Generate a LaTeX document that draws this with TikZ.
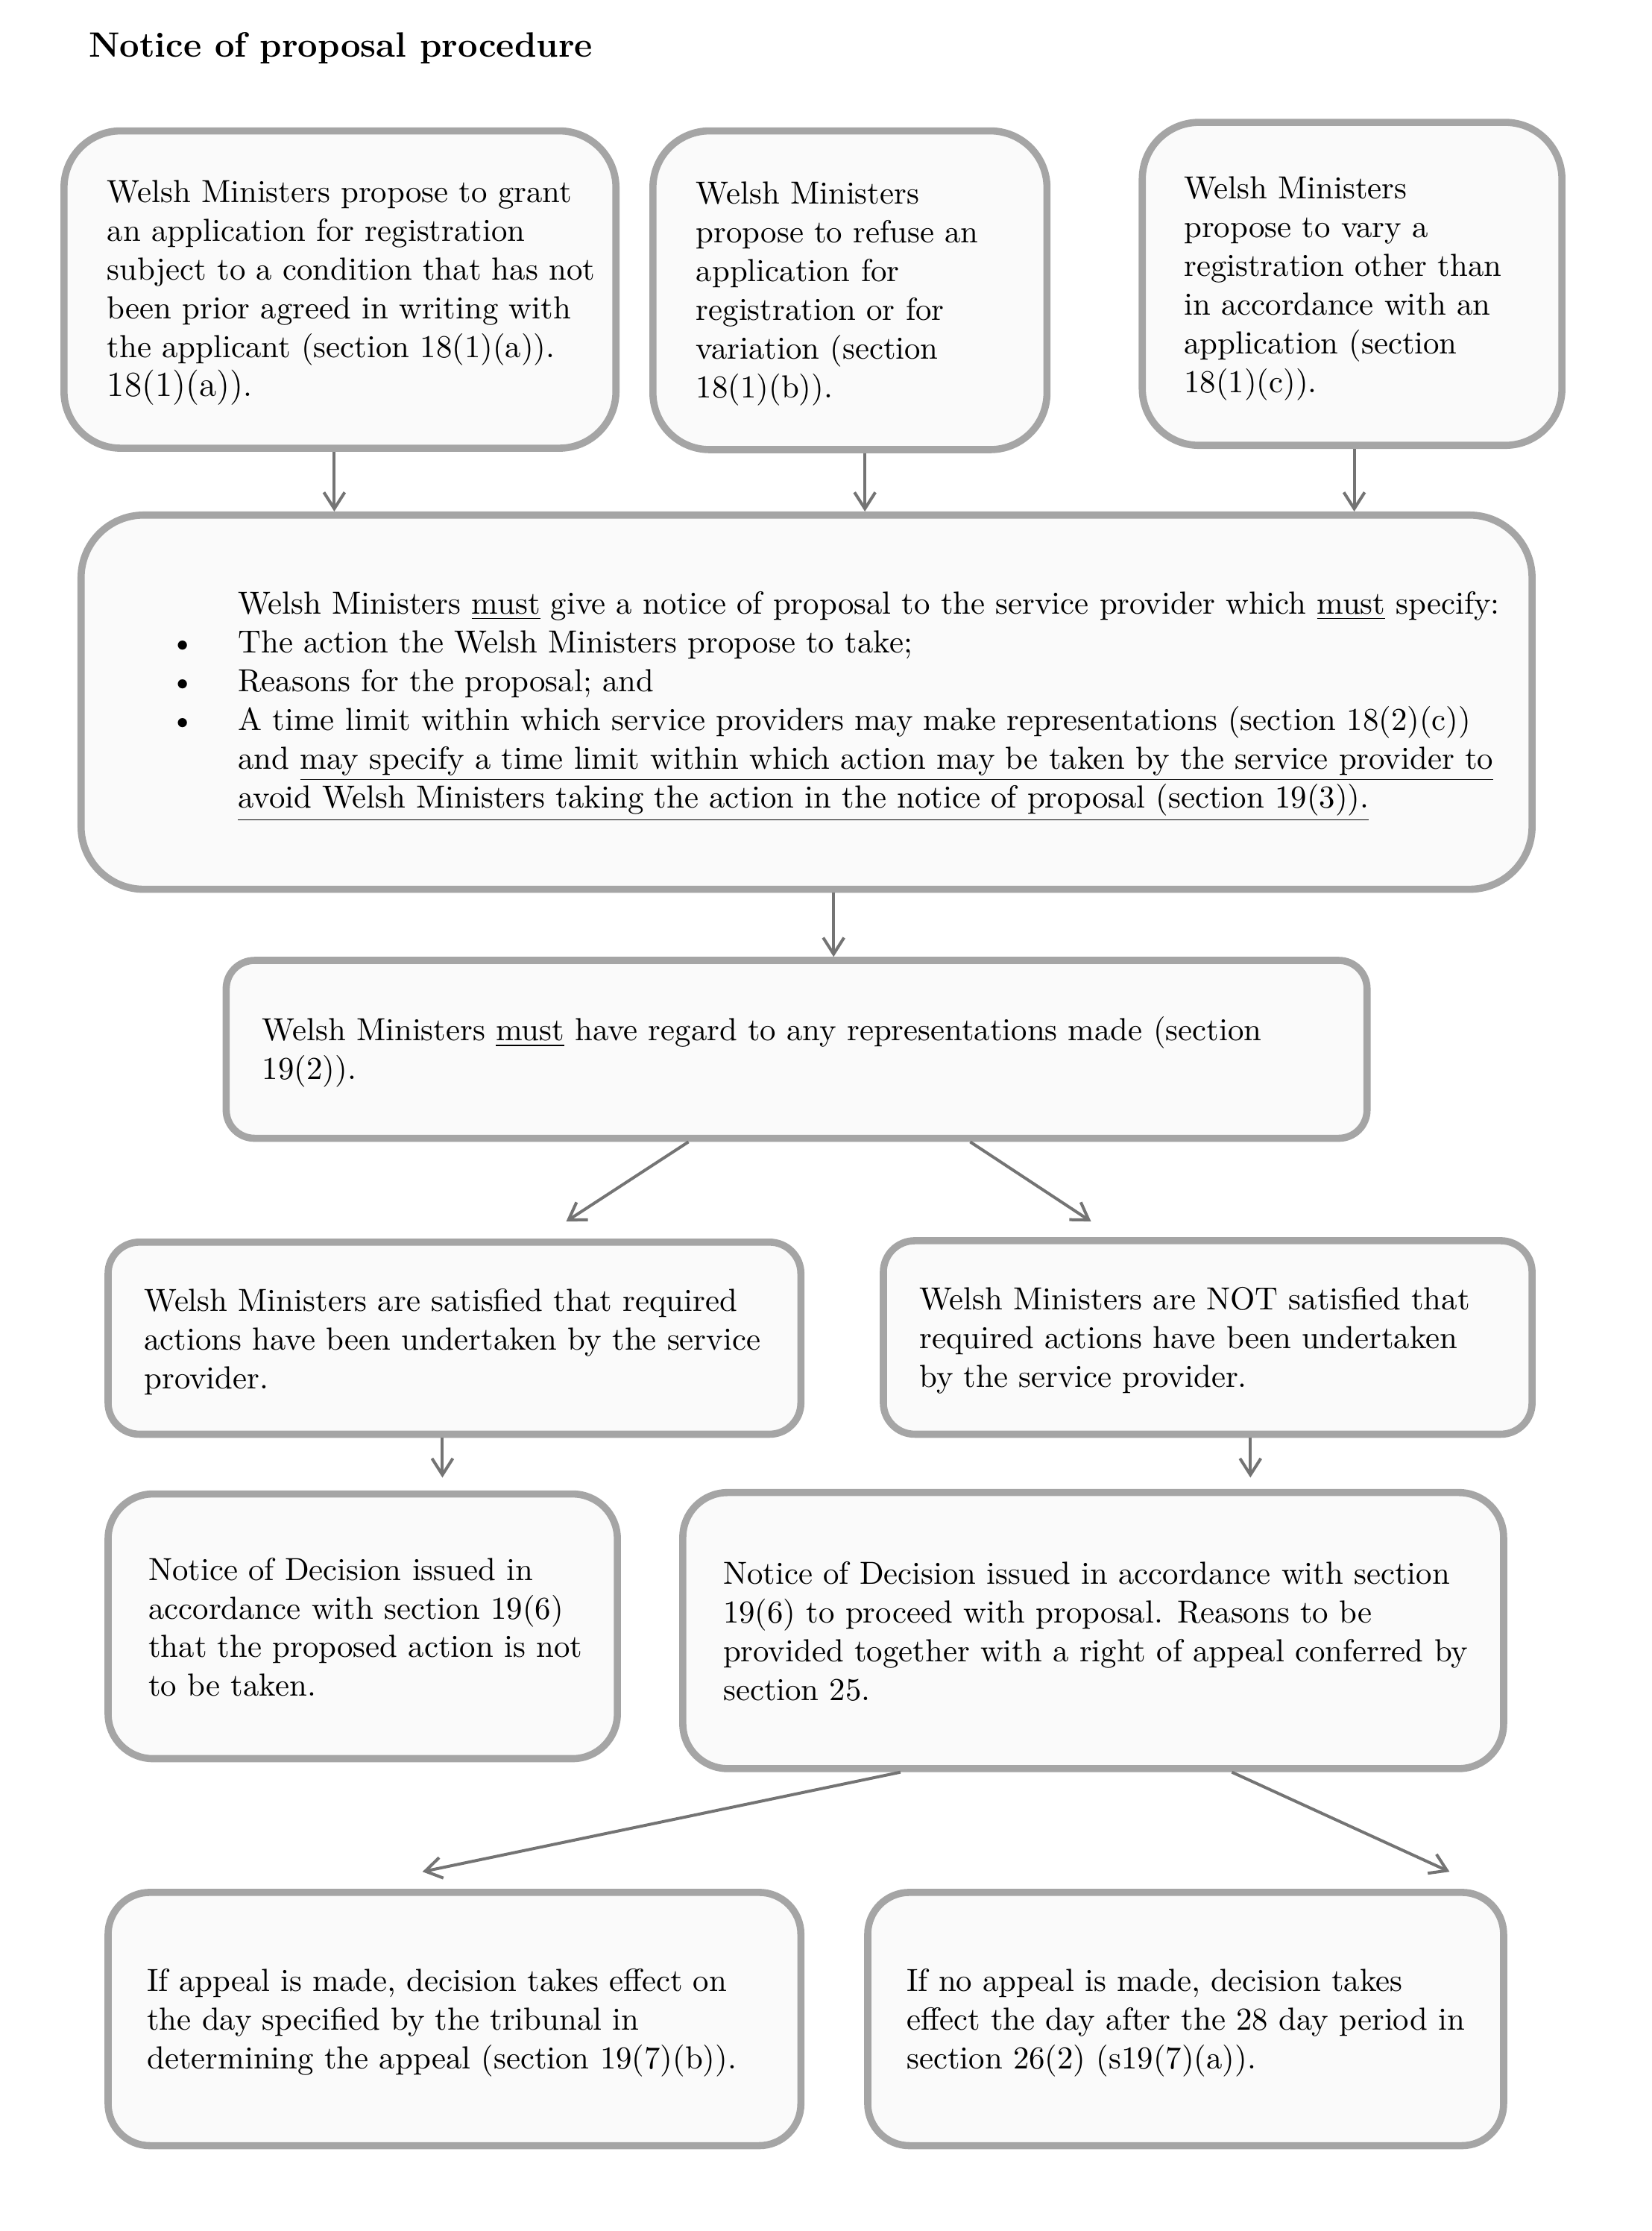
\documentclass[tikz,border=0pt]{standalone}
\usetikzlibrary{arrows.meta,calc}
\definecolor{boxline}{HTML}{A5A5A5}
\definecolor{boxfill}{HTML}{FAFAFA}
\definecolor{arrowc}{HTML}{747474}
\newcommand\mkbox[6]{\node[fbox, rounded corners=#6pt, minimum width={(#4-#2)*0.4772pt}, minimum height={(#5-#3)*0.4772pt}] (#1) at ({(#2+#4)/2},{(#3+#5)/2}) {};}
\newcommand\bul{\llap{\textbullet\hspace{14.5pt}}}
\begin{document}
\begin{tikzpicture}[x=0.4772pt, y=-0.4772pt,
  fbox/.style={draw=boxline, line width=2.4pt, fill=boxfill, rectangle, inner sep=0pt},
  txt/.style={anchor=north west, inner sep=0pt, align=left, font=\fontsize{10.7}{13}\selectfont},
  arr/.style={draw=arrowc, line width=1pt, -{Straight Barb[length=5.5pt,width=7pt]}}]
\useasboundingbox (0,0) rectangle (1161,1568);
\fill[white] (0,0) rectangle (1161,1568);

\node[anchor=base west, inner sep=0pt, font=\bfseries\fontsize{11.8}{14}\selectfont] (title) at (62,40) {Notice of proposal procedure};

\mkbox{A1}{45}{92}{433}{315}{19}
\mkbox{A2}{459}{92}{736}{316}{19}
\mkbox{A3}{803}{86}{1098}{313}{19}
\mkbox{B}{57}{362}{1077}{625}{21}
\mkbox{C}{159}{675}{961}{800}{9.5}
\mkbox{D1}{76}{873}{563}{1008}{10.5}
\mkbox{D2}{621}{872}{1077}{1008}{10.5}
\mkbox{E1}{76}{1050}{434}{1236}{15}
\mkbox{E2}{480}{1049}{1057}{1243}{15}
\mkbox{F1}{76}{1330}{563}{1508}{14}
\mkbox{F2}{610}{1330}{1057}{1508}{14}

\node[txt] (tA1) at (75,123) {\strut Welsh Ministers propose to grant\\ an application for registration\\ subject to a condition that has not\\ been prior agreed in writing with\\ the applicant (section 18(1)(a)).\\ {\fontsize{11.8}{13}\selectfont 18(1)(a))}.};
\node[txt] (tA2) at (489,124) {\strut Welsh Ministers\\ propose to refuse an\\ application for\\ registration or for\\ variation (section\\ 18(1)(b)).};
\node[txt] (tA3) at (832,120) {\strut Welsh Ministers\\ propose to vary a\\ registration other than\\ in accordance with an\\ application (section\\ 18(1)(c)).};
\node[txt] (tB) at (167,412) {\strut Welsh Ministers \underline{must} give a notice of proposal to the service provider which \underline{must} specify:\\
\bul The action the Welsh Ministers propose to take;\\
\bul Reasons for the proposal; and\\
\bul A time limit within which service providers may make representations (section 18(2)(c))\\
and \underline{may specify a time limit within which action may be taken by the service provider to}\\
\underline{avoid Welsh Ministers taking the action in the notice of proposal (section 19(3)).}};
\node[txt] (tC) at (184,712) {\strut Welsh Ministers \underline{must} have regard to any representations made (section\\ 19(2)).};
\node[txt] (tD1) at (101,902) {\strut Welsh Ministers are satisfied that required\\ actions have been undertaken by the service\\ provider.};
\node[txt] (tD2) at (646,901) {\strut Welsh Ministers are NOT satisfied that\\ required actions have been undertaken\\ by the service provider.};
\node[txt] (tE1) at (104,1091) {\strut Notice of Decision issued in\\ accordance with section 19(6)\\ that the proposed action is not\\ to be taken.};
\node[txt] (tE2) at (508,1094) {\strut Notice of Decision issued in accordance with section\\ 19(6) to proceed with proposal. Reasons to be\\ provided together with a right of appeal conferred by\\ section 25.};
\node[txt] (tF1) at (103,1380) {\strut If appeal is made, decision takes effect on\\ the day specified by the tribunal in\\ determining the appeal (section 19(7)(b)).};
\node[txt] (tF2) at (637,1380) {\strut If no appeal is made, decision takes\\ effect the day after the 28 day period in\\ section 26(2) (s19(7)(a)).};

% connectors
\coordinate (a1s) at ($(A1.south)+(-4,0)$);
\coordinate (a2s) at ($(A2.south)+(10.5,0)$);
\coordinate (a3s) at ($(A3.south)+(1.5,0)$);
\coordinate (bs) at ($(B.south)+(19,0)$);
\draw[arr] (a1s) -- (a1s |- B.north);
\draw[arr] (a2s) -- (a2s |- B.north);
\draw[arr] (a3s) -- (a3s |- B.north);
\draw[arr] (bs) -- (bs |- C.north);
\draw[arr] ($(C.south)+(-76,0)$) -- ($(D1.north)+(78.5,-12)$);
\draw[arr] ($(C.south)+(122,0)$) -- ($(D2.north)+(-82,-11)$);
\coordinate (d1s) at ($(D1.south)+(-8.5,0)$);
\coordinate (d2s) at ($(D2.south)+(30,0)$);
\draw[arr] (d1s) -- ($(d1s |- E1.north)+(0,-9)$);
\draw[arr] (d2s) -- ($(d2s |- E2.north)+(0,-8)$);
\draw[arr] ($(E2.south)+(-135.5,0)$) -- ($(F1.north)+(-22.5,-12)$);
\draw[arr] ($(E2.south)+(97.5,0)$) -- ($(F2.north)+(185.5,-12)$);
\end{tikzpicture}
\end{document}
